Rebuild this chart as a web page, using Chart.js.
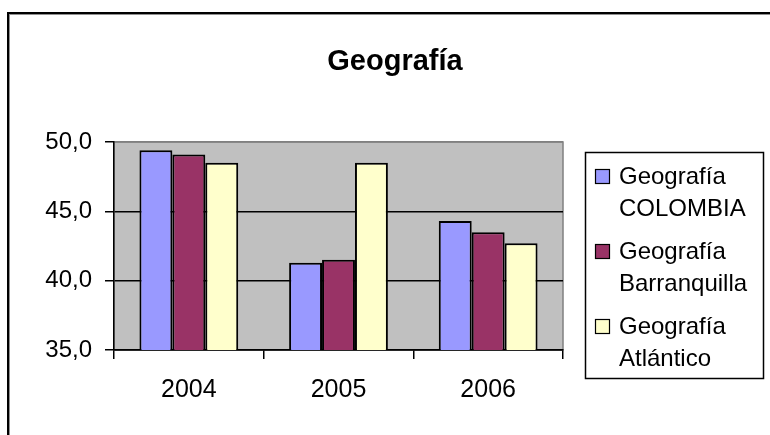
<!DOCTYPE html>
<html>
<head>
<meta charset="utf-8">
<script src="https://cdn.jsdelivr.net/npm/chart.js@4"></script>
<style>
  body { margin: 0; background: #fff; }
  #wrap { width: 770px; height: 435px; position: relative; }
</style>
</head>
<body>
<div id="wrap"><canvas id="geo-chart"></canvas></div>
<script>
const years = ["2004", "2005", "2006"];
const seriesNames = ["Geografía COLOMBIA", "Geografía Barranquilla", "Geografía Atlántico"];
const colombiaData = [49.4, 41.3, 44.3];
const barranquillaData = [49.1, 41.5, 43.5];
const atlanticoData = [48.5, 48.5, 42.7];
const seriesColors = ["#9999FF", "#993366", "#FFFFCC"];
const chartTitle = "Geografía";

const FONT = "'Liberation Sans', Arial, sans-serif";

// white page, grey plot area, title over the whole width and the outer frame
const backdrop = {
    id: 'backdrop',
    beforeDraw(chart) {
        const { ctx, chartArea: a } = chart;
        ctx.save();
        ctx.fillStyle = '#fff';
        ctx.fillRect(0, 0, chart.width, chart.height);
        ctx.fillStyle = '#C0C0C0';
        ctx.fillRect(a.left, a.top, a.right - a.left, a.bottom - a.top);
        ctx.strokeStyle = '#808080';
        ctx.lineWidth = 1.5;
        ctx.strokeRect(a.left, a.top, a.right - a.left, a.bottom - a.top);
        ctx.restore();
    },
    afterDraw(chart) {
        const ctx = chart.ctx;
        ctx.save();
        ctx.fillStyle = '#000';
        ctx.font = 'bold 29px ' + FONT;
        ctx.textAlign = 'center';
        ctx.textBaseline = 'alphabetic';
        ctx.fillText(chartTitle, 395, 70);
        ctx.strokeStyle = '#000';
        ctx.lineWidth = 2;
        ctx.strokeRect(8, 13, chart.width + 20, chart.height + 20);
        ctx.strokeStyle = '#909090';
        ctx.lineWidth = 1;
        ctx.strokeRect(9.5, 14.5, chart.width + 20, chart.height + 20);
        ctx.restore();
    }
};

// legend box with two-line labels, like the original
const boxLegend = {
    id: 'boxLegend',
    afterDraw(chart) {
        const ctx = chart.ctx;
        ctx.save();
        ctx.strokeStyle = '#000';
        ctx.lineWidth = 1.5;
        ctx.strokeRect(585.5, 152.5, 178, 226);
        ctx.font = '24px ' + FONT;
        ctx.textBaseline = 'alphabetic';
        ctx.textAlign = 'left';
        chart.data.datasets.forEach((ds, i) => {
            const base = 184 + i * 75;
            ctx.fillStyle = ds.backgroundColor;
            ctx.fillRect(595, base - 15, 14, 14);
            ctx.lineWidth = 1.2;
            ctx.strokeStyle = '#000';
            ctx.strokeRect(595.5, base - 14.5, 14, 14);
            const cut = ds.label.indexOf(' ');
            ctx.fillStyle = '#000';
            ctx.fillText(ds.label.slice(0, cut), 619, base);
            ctx.fillText(ds.label.slice(cut + 1), 619, base + 32);
        });
        ctx.restore();
    }
};

const ctx = document.getElementById('geo-chart').getContext('2d');
const chart = new Chart(ctx, {
    type: 'bar',
    data: {
        labels: years,
        datasets: [colombiaData, barranquillaData, atlanticoData].map((d, i) => ({
            label: seriesNames[i],
            data: d,
            backgroundColor: seriesColors[i],
            borderColor: '#000',
            borderWidth: 2,
            borderSkipped: false,
            categoryPercentage: 0.66,
            barPercentage: 1.0
        }))
    },
    options: {
        responsive: true,
        maintainAspectRatio: false,
        animation: false,
        layout: { padding: { left: 0, right: 207, top: 142, bottom: 0 } },
        plugins: {
            legend: { display: false },
            tooltip: { enabled: false },
            title: { display: false }
        },
        scales: {
            x: {
                grid: {
                    offset: true,
                    drawOnChartArea: false,
                    tickLength: 9,
                    tickColor: '#000',
                    lineWidth: 1.5
                },
                border: { display: true, color: '#000', width: 1.5 },
                ticks: { color: '#000', font: { family: FONT, size: 25 }, padding: 16 },
                afterFit(scale) { scale.height = 85; }
            },
            y: {
                min: 35,
                max: 50,
                ticks: {
                    stepSize: 5,
                    color: '#000',
                    font: { family: FONT, size: 24 },
                    padding: 13,
                    callback: v => v.toFixed(1).replace('.', ',')
                },
                grid: {
                    color: c => (c.tick && c.tick.value === 50) ? '#808080' : '#000',
                    tickColor: '#000',
                    tickLength: 9,
                    lineWidth: 1.5
                },
                border: { display: true, color: '#000', width: 1.5 },
                afterFit(scale) { scale.width = 114; }
            }
        }
    },
    plugins: [backdrop, boxLegend]
});
</script>
</body>
</html>
